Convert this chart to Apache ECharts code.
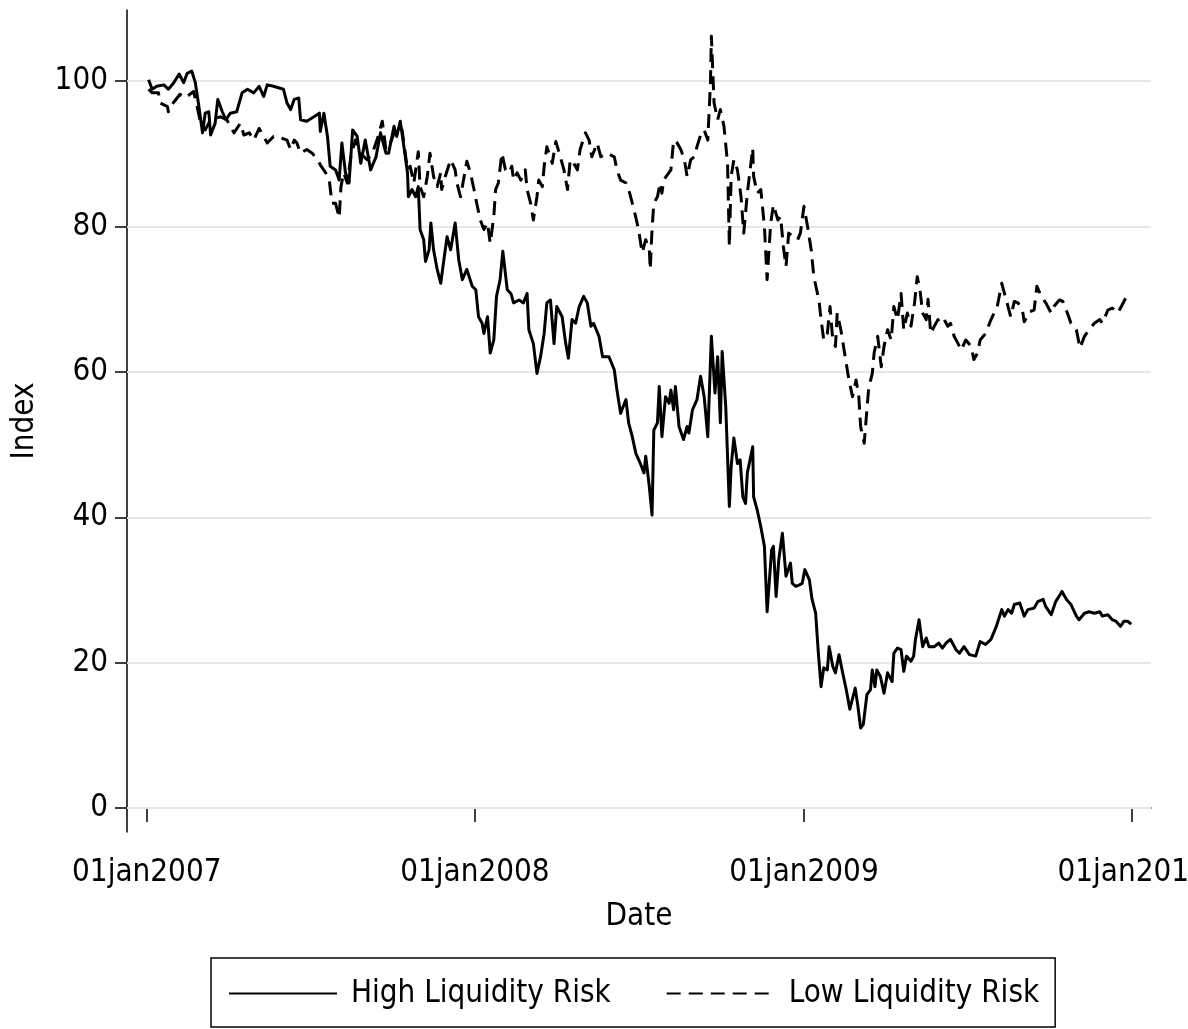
<!DOCTYPE html>
<html>
<head>
<meta charset="utf-8">
<script src="https://cdn.jsdelivr.net/npm/echarts@6/dist/echarts.min.js"></script>
<style>
  html, body { margin: 0; padding: 0; background: #fff; }
  #chart { width: 1188px; height: 1029px; }
</style>
</head>
<body>
<div id="chart"></div>
<script>
// [date, index] pairs
const highPoints = [
  ['2007-01-03',100.2],['2007-01-07',98.9],['2007-01-12',99.3],['2007-01-20',99.5],['2007-01-25',98.9],['2007-01-31',99.8],
  ['2007-02-06',101.0],['2007-02-11',99.8],['2007-02-15',101.1],['2007-02-20',101.4],['2007-02-24',99.8],['2007-02-28',96.5],
  ['2007-03-04',92.9],['2007-03-07',95.6],['2007-03-11',95.8],['2007-03-13',92.6],['2007-03-18',94.2],['2007-03-21',97.5],
  ['2007-03-26',95.8],['2007-03-30',94.7],['2007-04-04',95.6],['2007-04-11',95.8],['2007-04-17',98.4],['2007-04-23',98.9],
  ['2007-04-30',98.4],['2007-05-06',99.3],['2007-05-11',97.9],['2007-05-15',99.5],['2007-05-22',99.3],['2007-06-02',98.9],
  ['2007-06-06',97.0],['2007-06-10',96.1],['2007-06-14',97.5],['2007-06-19',97.7],['2007-06-21',94.7],['2007-06-28',94.5],
  ['2007-07-06',95.1],['2007-07-12',95.6],['2007-07-13',93.1],['2007-07-17',95.6],['2007-07-21',92.4],['2007-07-24',88.3],
  ['2007-07-30',87.8],['2007-08-03',86.4],['2007-08-06',91.5],['2007-08-10',87.4],['2007-08-14',86.0],['2007-08-18',93.3],
  ['2007-08-23',92.4],['2007-08-27',88.7],['2007-09-01',91.9],['2007-09-07',87.8],['2007-09-13',89.6],['2007-09-18',92.9],
  ['2007-09-24',90.1],['2007-09-27',90.1],['2007-10-03',93.8],['2007-10-06',92.4],['2007-10-10',94.5],['2007-10-14',91.0],
  ['2007-10-18',87.4],['2007-10-19',84.1],['2007-10-23',85.1],['2007-10-27',84.1],['2007-10-30',85.5],['2007-11-01',79.6],
  ['2007-11-05',78.2],['2007-11-07',75.2],['2007-11-11',76.8],['2007-11-13',80.5],['2007-11-16',76.8],['2007-11-20',74.1],
  ['2007-11-24',72.2],['2007-11-27',75.0],['2007-12-01',78.6],['2007-12-05',76.8],['2007-12-10',80.5],['2007-12-14',75.4],
  ['2007-12-18',72.7],['2007-12-23',74.1],['2007-12-29',71.8],['2008-01-02',71.3],['2008-01-05',67.6],['2008-01-09',66.7],
  ['2008-01-11',65.3],['2008-01-15',67.6],['2008-01-18',62.6],['2008-01-22',64.4],['2008-01-25',70.4],['2008-01-29',72.7],
  ['2008-02-01',76.6],['2008-02-06',71.3],['2008-02-10',70.8],['2008-02-13',69.5],['2008-02-19',69.9],['2008-02-24',69.5],
  ['2008-02-28',70.8],['2008-03-01',65.8],['2008-03-06',63.9],['2008-03-10',59.8],['2008-03-14',62.1],['2008-03-18',65.3],
  ['2008-03-21',69.5],['2008-03-25',69.9],['2008-03-29',63.9],['2008-04-01',69.0],['2008-04-07',67.6],['2008-04-11',63.9],
  ['2008-04-14',61.9],['2008-04-18',67.2],['2008-04-22',66.7],['2008-04-26',69.0],['2008-05-01',70.4],['2008-05-05',69.5],
  ['2008-05-09',66.3],['2008-05-12',66.7],['2008-05-18',64.9],['2008-05-22',62.1],['2008-05-29',62.1],['2008-06-04',60.3],
  ['2008-06-07',57.5],['2008-06-11',54.3],['2008-06-17',56.2],['2008-06-20',53.0],['2008-06-24',51.1],['2008-06-28',48.8],
  ['2008-07-03',47.4],['2008-07-07',46.1],['2008-07-09',48.4],['2008-07-13',44.2],['2008-07-16',40.3],['2008-07-18',52.0],
  ['2008-07-22',53.0],['2008-07-24',58.0],['2008-07-27',51.1],['2008-07-31',56.6],['2008-08-04',55.7],['2008-08-06',57.5],
  ['2008-08-09',54.8],['2008-08-11',58.0],['2008-08-15',52.5],['2008-08-20',50.7],['2008-08-24',52.5],['2008-08-26',51.6],
  ['2008-08-30',54.8],['2008-09-04',56.2],['2008-09-08',59.4],['2008-09-12',56.6],['2008-09-16',51.1],['2008-09-20',64.9],
  ['2008-09-24',57.1],['2008-09-27',62.1],['2008-09-30',53.0],['2008-10-02',62.8],['2008-10-06',55.2],['2008-10-10',41.5],
  ['2008-10-12',47.0],['2008-10-15',50.9],['2008-10-19',47.4],['2008-10-22',47.9],['2008-10-25',42.8],['2008-10-28',41.9],
  ['2008-10-30',46.1],['2008-11-02',47.9],['2008-11-05',49.7],['2008-11-06',42.8],['2008-11-10',41.0],['2008-11-14',38.7],
  ['2008-11-18',36.0],['2008-11-21',27.0],['2008-11-26',35.5],['2008-11-28',36.0],['2008-12-01',29.1],['2008-12-04',34.2],
  ['2008-12-08',37.8],['2008-12-12',31.9],['2008-12-17',33.7],['2008-12-19',30.9],['2008-12-23',30.5],['2008-12-27',30.7],
  ['2008-12-30',30.9],['2009-01-02',32.8],['2009-01-07',31.4],['2009-01-10',28.7],['2009-01-14',26.8],['2009-01-17',21.3],
  ['2009-01-20',16.7],['2009-01-23',19.3],['2009-01-27',19.0],['2009-01-29',22.2],['2009-02-02',19.5],['2009-02-05',18.6],
  ['2009-02-09',21.1],['2009-02-13',18.6],['2009-02-17',16.3],['2009-02-21',13.6],['2009-02-23',13.8],['2009-02-27',16.5],
  ['2009-03-02',14.0],['2009-03-05',11.0],['2009-03-08',11.5],['2009-03-12',15.6],['2009-03-16',16.3],['2009-03-18',19.0],
  ['2009-03-21',16.7],['2009-03-23',19.0],['2009-03-27',18.1],['2009-03-31',15.8],['2009-04-04',18.6],['2009-04-09',17.4],
  ['2009-04-11',21.3],['2009-04-15',22.0],['2009-04-19',21.8],['2009-04-22',18.8],['2009-04-25',20.9],['2009-04-30',20.2],
  ['2009-05-03',20.9],['2009-05-05',23.2],['2009-05-09',25.9],['2009-05-13',22.2],['2009-05-17',23.4],['2009-05-20',22.2],
  ['2009-05-26',22.2],['2009-05-31',22.7],['2009-06-04',22.0],['2009-06-08',22.7],['2009-06-13',23.2],['2009-06-19',21.8],
  ['2009-06-23',21.3],['2009-06-28',22.2],['2009-07-04',21.1],['2009-07-11',20.9],['2009-07-16',22.9],['2009-07-22',22.5],
  ['2009-07-28',23.2],['2009-08-03',25.0],['2009-08-09',27.3],['2009-08-12',26.4],['2009-08-16',27.3],['2009-08-20',26.8],
  ['2009-08-23',28.0],['2009-08-29',28.2],['2009-09-03',26.4],['2009-09-07',27.3],['2009-09-14',27.5],['2009-09-18',28.4],
  ['2009-09-24',28.7],['2009-09-27',27.7],['2009-10-03',26.6],['2009-10-08',28.4],['2009-10-15',29.8],['2009-10-20',28.7],
  ['2009-10-25',28.0],['2009-10-31',26.4],['2009-11-03',25.9],['2009-11-09',26.8],['2009-11-14',27.0],['2009-11-20',26.8],
  ['2009-11-26',27.0],['2009-11-29',26.4],['2009-12-05',26.6],['2009-12-10',25.9],['2009-12-14',25.7],['2009-12-19',25.0],
  ['2009-12-23',25.7],['2009-12-27',25.7],['2009-12-31',25.3]
];

const lowPoints = [
  ['2007-01-03',98.9],['2007-01-07',98.4],['2007-01-14',98.4],['2007-01-16',97.0],['2007-01-24',96.5],['2007-01-25',95.8],
  ['2007-01-29',96.8],['2007-02-07',98.2],['2007-02-13',97.7],['2007-02-22',98.6],['2007-02-26',96.5],['2007-03-02',94.2],
  ['2007-03-07',93.3],['2007-03-13',94.7],['2007-03-18',94.9],['2007-03-24',95.1],['2007-03-31',94.7],['2007-04-08',92.9],
  ['2007-04-15',94.2],['2007-04-19',92.6],['2007-04-25',92.9],['2007-04-30',91.9],['2007-05-06',93.5],['2007-05-11',92.4],
  ['2007-05-15',91.5],['2007-05-22',92.4],['2007-05-30',92.2],['2007-06-06',91.9],['2007-06-10',90.6],['2007-06-14',91.9],
  ['2007-06-17',91.5],['2007-06-21',90.1],['2007-06-28',90.6],['2007-07-04',90.1],['2007-07-10',89.2],['2007-07-13',88.5],
  ['2007-07-19',87.4],['2007-07-23',86.4],['2007-07-26',83.2],['2007-07-30',83.2],['2007-08-03',81.2],['2007-08-05',85.5],
  ['2007-08-08',87.4],['2007-08-12',86.0],['2007-08-16',89.6],['2007-08-21',91.9],['2007-08-27',90.1],['2007-09-03',89.2],
  ['2007-09-09',90.1],['2007-09-14',91.9],['2007-09-20',94.5],['2007-09-24',90.6],['2007-09-29',91.5],['2007-10-06',93.8],
  ['2007-10-12',93.3],['2007-10-18',87.8],['2007-10-21',88.3],['2007-10-25',86.0],['2007-10-30',90.3],['2007-11-01',85.5],
  ['2007-11-05',84.1],['2007-11-09',86.9],['2007-11-12',90.1],['2007-11-16',86.9],['2007-11-20',85.5],['2007-11-24',87.4],
  ['2007-11-25',85.1],['2007-11-29',86.9],['2007-12-05',89.2],['2007-12-10',87.8],['2007-12-12',86.0],['2007-12-16',84.1],
  ['2007-12-20',86.9],['2007-12-23',89.0],['2007-12-27',87.4],['2007-12-31',85.1],['2008-01-03',83.2],['2008-01-07',80.9],
  ['2008-01-11',79.6],['2008-01-15',80.5],['2008-01-18',77.7],['2008-01-22',81.4],['2008-01-24',85.1],['2008-01-27',86.0],
  ['2008-01-31',90.1],['2008-02-04',87.8],['2008-02-08',87.4],['2008-02-11',88.3],['2008-02-13',86.4],['2008-02-17',87.4],
  ['2008-02-21',86.4],['2008-02-26',87.8],['2008-02-28',85.1],['2008-03-03',83.2],['2008-03-06',80.9],['2008-03-10',84.1],
  ['2008-03-12',86.4],['2008-03-16',85.5],['2008-03-18',88.3],['2008-03-21',91.0],['2008-03-27',88.7],['2008-03-31',91.7],
  ['2008-04-05',89.6],['2008-04-09',87.8],['2008-04-13',85.1],['2008-04-16',89.2],['2008-04-20',88.7],['2008-04-24',87.8],
  ['2008-04-27',90.6],['2008-05-03',92.9],['2008-05-07',91.9],['2008-05-10',89.6],['2008-05-16',91.5],['2008-05-20',89.6],
  ['2008-05-27',90.1],['2008-06-04',89.6],['2008-06-07',87.8],['2008-06-11',86.4],['2008-06-17',86.0],['2008-06-20',85.1],
  ['2008-06-26',82.3],['2008-07-01',79.6],['2008-07-05',76.4],['2008-07-09',78.2],['2008-07-13',76.8],['2008-07-14',74.1],
  ['2008-07-16',79.6],['2008-07-18',83.2],['2008-07-22',84.1],['2008-07-25',86.0],['2008-07-27',84.6],['2008-07-29',86.4],
  ['2008-08-02',87.1],['2008-08-06',87.8],['2008-08-09',91.9],['2008-08-13',91.5],['2008-08-17',90.6],['2008-08-21',89.2],
  ['2008-08-24',86.9],['2008-08-28',89.2],['2008-09-01',89.6],['2008-09-04',91.0],['2008-09-08',92.6],['2008-09-12',93.3],
  ['2008-09-16',91.9],['2008-09-19',99.8],['2008-09-20',106.2],['2008-09-23',97.0],['2008-09-27',94.7],['2008-09-30',96.1],
  ['2008-10-04',93.8],['2008-10-08',88.7],['2008-10-10',77.3],['2008-10-12',86.9],['2008-10-15',89.2],['2008-10-19',87.8],
  ['2008-10-23',84.1],['2008-10-26',79.1],['2008-10-30',84.6],['2008-11-05',90.8],['2008-11-06',86.9],['2008-11-10',84.6],
  ['2008-11-14',85.1],['2008-11-18',80.0],['2008-11-21',72.7],['2008-11-25',80.5],['2008-11-28',83.0],['2008-12-03',80.9],
  ['2008-12-06',81.4],['2008-12-09',77.3],['2008-12-12',74.5],['2008-12-15',79.1],['2008-12-21',78.6],['2008-12-25',78.2],
  ['2008-12-28',79.1],['2009-01-01',82.8],['2009-01-05',80.0],['2009-01-09',76.8],['2009-01-12',73.1],['2009-01-16',70.8],
  ['2009-01-18',69.5],['2009-01-20',67.2],['2009-01-23',64.4],['2009-01-27',65.3],['2009-01-30',69.0],['2009-02-02',64.4],
  ['2009-02-05',63.5],['2009-02-07',68.1],['2009-02-11',65.8],['2009-02-17',61.2],['2009-02-20',58.9],['2009-02-24',56.6],
  ['2009-02-28',58.9],['2009-03-03',56.6],['2009-03-05',52.5],['2009-03-09',50.2],['2009-03-12',54.8],['2009-03-14',57.8],
  ['2009-03-18',59.8],['2009-03-20',62.6],['2009-03-24',64.9],['2009-03-28',60.7],['2009-03-31',63.5],['2009-04-04',65.8],
  ['2009-04-08',64.4],['2009-04-11',69.0],['2009-04-15',67.2],['2009-04-19',70.8],['2009-04-22',65.8],['2009-04-26',68.1],
  ['2009-04-30',66.3],['2009-05-04',69.5],['2009-05-07',73.1],['2009-05-10',71.3],['2009-05-13',68.1],['2009-05-17',67.2],
  ['2009-05-19',70.0],['2009-05-22',65.3],['2009-05-26',66.3],['2009-05-30',67.2],['2009-06-02',66.7],['2009-06-06',67.2],
  ['2009-06-10',66.3],['2009-06-13',66.7],['2009-06-17',64.9],['2009-06-21',64.0],['2009-06-25',63.0],['2009-06-30',64.4],
  ['2009-07-06',63.5],['2009-07-09',61.7],['2009-07-13',62.6],['2009-07-16',64.4],['2009-07-22',65.3],['2009-07-28',67.2],
  ['2009-08-04',69.0],['2009-08-09',72.2],['2009-08-14',69.9],['2009-08-19',67.6],['2009-08-23',69.7],['2009-08-27',69.5],
  ['2009-09-01',68.5],['2009-09-03',66.9],['2009-09-09',68.3],['2009-09-14',68.5],['2009-09-17',71.8],['2009-09-22',70.4],
  ['2009-09-27',69.5],['2009-10-03',68.1],['2009-10-06',69.0],['2009-10-12',69.9],['2009-10-16',69.7],['2009-10-21',68.1],
  ['2009-10-25',66.7],['2009-10-31',65.8],['2009-11-04',63.3],['2009-11-09',64.9],['2009-11-14',65.8],['2009-11-20',66.7],
  ['2009-11-26',67.2],['2009-11-29',66.7],['2009-12-05',68.5],['2009-12-10',68.8],['2009-12-16',68.1],['2009-12-20',69.0],
  ['2009-12-25',70.2],['2009-12-31',69.9]
];

const yTicks = [0, 20, 40, 60, 80, 100];
const xTicks = ['2007-01-01', '2008-01-01', '2009-01-01', '2010-01-01'];
const monthNames = ['jan','feb','mar','apr','may','jun','jul','aug','sep','oct','nov','dec'];

// Stata draws with a narrow Helvetica; take a narrow face when one is installed
function pickFont() {
  const ctx = document.createElement('canvas').getContext('2d');
  const probe = '01jan2007';
  const measure = f => { ctx.font = f; return ctx.measureText(probe).width; };
  const mono = measure('100px monospace');
  const has = fam => measure(`100px '${fam}', monospace`) !== mono;
  for (const fam of ['Liberation Sans Narrow', 'Arial Narrow', 'Nimbus Sans Narrow', 'Noto Sans Condensed']) {
    if (has(fam)) return { family: `'${fam}'`, style: 'normal', w100: measure(`100px '${fam}'`) };
  }
  // condensed face inside the Noto Sans family
  if (has('Noto Sans')) {
    const plain = measure("100px 'Noto Sans'");
    ctx.font = "condensed 100px 'Noto Sans'";
    if (/condensed/.test(ctx.font)) {
      const cw = ctx.measureText(probe).width;
      if (cw < plain * 0.92) return { family: "'Noto Sans'", style: 'condensed', w100: cw };
    }
  }
  for (const fam of ['DejaVu Sans Condensed', 'Liberation Sans']) {
    if (has(fam)) return { family: `'${fam}'`, style: 'normal', w100: measure(`100px '${fam}'`) };
  }
  return { family: 'sans-serif', style: 'normal', w100: measure('100px sans-serif') };
}
const picked = pickFont();
// aim at the label width of the original, allowing a little extra for a taller cap height
const FONT_SIZE = Math.round(Math.min(37, 13600 * 1.1 / picked.w100) * 10) / 10;
const txt = { fontFamily: picked.family, fontStyle: picked.style, fontSize: FONT_SIZE, color: '#000' };

// x runs on UTC timestamps, labels printed the Stata way
const ts = s => Date.parse(s);
const stataDate = v => {
  const d = new Date(v);
  return String(d.getUTCDate()).padStart(2, '0') + monthNames[d.getUTCMonth()] + d.getUTCFullYear();
};

const chart = echarts.init(document.getElementById('chart'), null, { renderer: 'canvas' });

chart.setOption({
  backgroundColor: '#fff',
  animation: false,
  textStyle: { fontFamily: picked.family },
  grid: { left: 127, right: 37, top: 10, bottom: 197, containLabel: false, outerBoundsMode: 'none' },
  legend: {
    data: ['High Liquidity Risk', 'Low Liquidity Risk'],
    left: 211,
    top: 958,
    orient: 'horizontal',
    itemWidth: 108,
    itemHeight: 4,
    itemGap: 55,
    padding: [20, 16, 18, 17],
    borderColor: '#000',
    borderWidth: 1.5,
    itemStyle: { color: 'rgba(0,0,0,0)', borderWidth: 0 },
    textStyle: Object.assign({}, txt, { padding: [0, 0, 0, 9] })
  },
  xAxis: {
    type: 'value',
    min: ts('2006-12-10'),
    max: ts('2010-01-22'),
    name: 'Date',
    nameLocation: 'middle',
    nameGap: 69,
    nameTextStyle: txt,
    axisLine: { show: true, lineStyle: { color: '#000', width: 1.5 } },
    axisTick: { show: true, customValues: xTicks.map(ts), length: 14, lineStyle: { color: '#000', width: 1.5 } },
    axisLabel: Object.assign({ customValues: xTicks.map(ts), formatter: stataDate, margin: 25, hideOverlap: false }, txt),
    splitLine: { show: false }
  },
  yAxis: {
    type: 'value',
    min: -3.3,
    max: 109.8,
    name: 'Index',
    nameLocation: 'middle',
    nameRotate: 90,
    nameGap: 87,
    nameTextStyle: txt,
    axisLine: { show: true, lineStyle: { color: '#000', width: 1.5 } },
    axisTick: { show: true, customValues: yTicks, length: 12, lineStyle: { color: '#000', width: 1.5 } },
    axisLabel: Object.assign({ customValues: yTicks, margin: 19 }, txt),
    splitLine: { show: false }
  },
  series: [
    {
      name: 'High Liquidity Risk',
      type: 'line',
      symbol: 'none',
      z: 3,
      data: highPoints.map(p => [ts(p[0]), p[1]]),
      lineStyle: { color: '#000', width: 3, type: 'solid', join: 'round' },
      itemStyle: { color: '#000' },
      markLine: {
        silent: true,
        symbol: 'none',
        z: 1,
        label: { show: false },
        lineStyle: { color: '#e6e6e6', width: 2, type: 'solid' },
        data: yTicks.map(v => ({ yAxis: v }))
      }
    },
    {
      name: 'Low Liquidity Risk',
      type: 'line',
      symbol: 'none',
      z: 3,
      data: lowPoints.map(p => [ts(p[0]), p[1]]),
      lineStyle: { color: '#000', width: 3, type: [14, 8], join: 'round' },
      itemStyle: { color: '#000' }
    }
  ]
});
</script>
</body>
</html>
